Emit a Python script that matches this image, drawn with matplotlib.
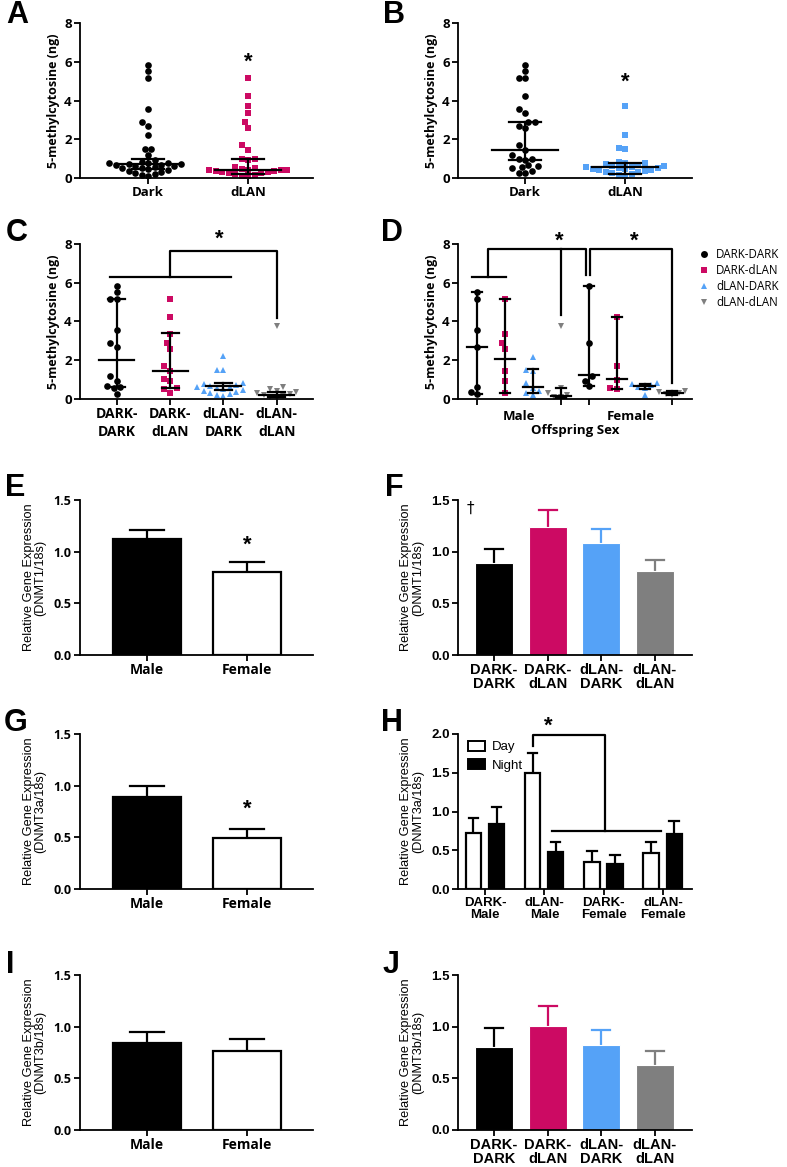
import numpy as np
import matplotlib.pyplot as plt
from matplotlib.patches import Patch

# colours of the four groups
BLACK = '#000000'
PINK = '#CC0A63'
BLUE = '#55A2F7'
GREY = '#7F7F7F'

# ---- panel A: total 5-mC by maternal light ----
a_groups = ['Dark', 'dLAN']
a_dark = [5.85, 5.5, 5.15, 3.55, 2.9, 2.7, 2.2, 1.5, 1.5, 1.2, 0.95, 0.85, 0.8, 0.75,
          0.75, 0.7, 0.7, 0.65, 0.65, 0.6, 0.6, 0.55, 0.5, 0.5, 0.45, 0.4, 0.35, 0.3,
          0.25, 0.2, 0.15, 0.1]
a_dlan = [5.15, 4.25, 3.7, 3.35, 2.9, 2.6, 1.7, 1.45, 1.0, 1.0, 0.95, 0.55, 0.5, 0.45,
          0.4, 0.4, 0.4, 0.4, 0.35, 0.35, 0.3, 0.3, 0.25, 0.25, 0.2, 0.15, 0.1, 0.05]
a_mid = [0.7, 0.4]
a_low = [0.45, 0.2]
a_high = [1.0, 0.98]

# ---- panel B: total 5-mC by paternal light ----
b_dark = [5.85, 5.5, 5.15, 5.15, 4.25, 3.55, 3.35, 2.9, 2.9, 2.7, 2.6, 1.7, 1.45, 1.2,
          1.0, 1.0, 0.95, 0.65, 0.6, 0.55, 0.5, 0.35, 0.25, 0.25]
b_dlan = [3.7, 2.2, 1.55, 1.5, 0.85, 0.8, 0.75, 0.7, 0.65, 0.6, 0.6, 0.55, 0.55, 0.5,
          0.5, 0.45, 0.45, 0.4, 0.4, 0.35, 0.3, 0.3, 0.25, 0.2, 0.15, 0.1]
b_mid = [1.45, 0.55]
b_low = [0.95, 0.2]
b_high = [2.9, 0.8]

# ---- panel C / D: four parental combinations ----
combo_names = ['DARK-DARK', 'DARK-dLAN', 'dLAN-DARK', 'dLAN-dLAN']
combo_ticks = ['DARK-\nDARK', 'DARK-\ndLAN', 'dLAN-\nDARK', 'dLAN-\ndLAN']
combo_colors = [BLACK, PINK, BLUE, GREY]
combo_markers = ['o', 's', '^', 'v']
c_vals = [
    [5.85, 5.5, 5.15, 5.15, 3.55, 2.9, 2.7, 1.2, 0.95, 0.65, 0.6, 0.55, 0.25],
    [5.15, 4.25, 3.35, 2.9, 2.6, 1.7, 1.45, 1.05, 0.95, 0.55, 0.5, 0.3],
    [2.2, 1.5, 1.5, 0.8, 0.75, 0.7, 0.65, 0.6, 0.6, 0.55, 0.5, 0.45, 0.4, 0.35, 0.3,
     0.25, 0.2, 0.15],
    [3.75, 0.6, 0.5, 0.4, 0.35, 0.3, 0.25, 0.2, 0.15, 0.1, 0.05],
]
c_mid = [2.0, 1.45, 0.65, 0.2]
c_low = [0.6, 0.55, 0.45, 0.1]
c_high = [5.15, 3.4, 0.8, 0.35]

d_sexes = ['Male', 'Female']
d_vals = [
    [5.5, 5.15, 3.55, 2.7, 0.6, 0.35, 0.25],
    [5.15, 3.35, 2.9, 2.6, 1.45, 0.95, 0.3],
    [2.15, 1.5, 1.45, 0.8, 0.55, 0.4, 0.3, 0.2],
    [3.75, 0.55, 0.3, 0.2, 0.1, 0.1],
    [5.85, 2.9, 1.2, 0.95, 0.65],
    [4.25, 1.7, 1.0, 0.55, 0.5],
    [0.8, 0.75, 0.7, 0.6, 0.55, 0.2],
    [0.4, 0.35, 0.3, 0.25, 0.2],
]
d_mid = [2.7, 2.05, 0.6, 0.15, 1.25, 1.05, 0.65, 0.3]
d_low = [0.25, 0.3, 0.3, 0.05, 0.65, 0.5, 0.5, 0.2]
d_high = [5.5, 5.15, 1.55, 0.55, 5.85, 4.25, 0.75, 0.4]

# ---- gene expression bars ----
sex_labels = ['Male', 'Female']
e_mean = [1.12, 0.80]
e_sem = [0.09, 0.10]
f_mean = [0.89, 1.24, 1.08, 0.81]
f_sem = [0.14, 0.16, 0.14, 0.11]
g_mean = [0.89, 0.49]
g_sem = [0.11, 0.09]
h_groups = ['DARK-\nMale', 'dLAN-\nMale', 'DARK-\nFemale', 'dLAN-\nFemale']
h_day = [0.72, 1.50, 0.35, 0.46]
h_day_sem = [0.20, 0.26, 0.14, 0.15]
h_night = [0.84, 0.48, 0.32, 0.71]
h_night_sem = [0.22, 0.13, 0.12, 0.17]
i_mean = [0.84, 0.76]
i_sem = [0.11, 0.12]
j_mean = [0.80, 1.01, 0.82, 0.63]
j_sem = [0.19, 0.19, 0.15, 0.13]

OPEN = 'Open Sans'
ARIAL = 'Liberation Sans'
W, H = 787, 1167
LW = 1.6

fig = plt.figure(figsize=(W / 100, H / 100), dpi=100)


def make_axes(x0, x1, ytop, ybot):
    ax = fig.add_axes([x0 / W, 1 - ybot / H, (x1 - x0) / W, (ybot - ytop) / H])
    ax.spines['top'].set_visible(False)
    ax.spines['right'].set_visible(False)
    for s in ('left', 'bottom'):
        ax.spines[s].set_linewidth(1.3)
    ax.tick_params(width=1.3, length=4, direction='out', pad=2)
    return ax


def style_ticks(ax, font, size=9.5):
    for lab in ax.get_yticklabels() + ax.get_xticklabels():
        lab.set_fontfamily(font)
        lab.set_fontweight('bold')
        lab.set_fontsize(size)


def swarm(vals, px_per_y, diam):
    # simple beeswarm: offsets in pixels
    order = np.argsort(vals)
    placed = []
    offs = np.zeros(len(vals))
    for i in order:
        y = vals[i] * px_per_y
        best = None
        for k in range(0, 60):
            for sgn in ([0] if k == 0 else [-1, 1]):
                cand = sgn * k * diam * 0.5
                ok = all((cand - px) ** 2 + (y - py) ** 2 >= diam ** 2 * 0.95 for px, py in placed)
                if ok:
                    best = cand
                    break
            if best is not None:
                break
        offs[i] = best
        placed.append((best, y))
    return offs


def scatter_panel(ax, groups, positions, colors, markers, px_per_x, px_per_y,
                  mids, lows, highs, mid_hw, cap_hw, diam=6.5, ms=4.8):
    for vals, pos, col, mk, m, lo, hi in zip(groups, positions, colors, markers, mids, lows, highs):
        vals = np.array(vals)
        offs = swarm(vals, px_per_y, diam) / px_per_x
        ax.plot(pos + offs, vals, linestyle='none', marker=mk, color=col, ms=ms,
                markeredgewidth=0, zorder=2)
        ax.plot([pos, pos], [lo, hi], color='black', lw=LW, zorder=3)
        ax.plot([pos - mid_hw, pos + mid_hw], [m, m], color='black', lw=LW, zorder=3)
        for yy in (lo, hi):
            ax.plot([pos - cap_hw, pos + cap_hw], [yy, yy], color='black', lw=LW, zorder=3)


def up_err(ax, xs, means, sems, colors, cap_hw):
    # upper-only error bars drawn from the bar top
    for x, m, s, c in zip(xs, means, sems, colors):
        ax.plot([x, x], [m, m + s], color=c, lw=LW, zorder=1, solid_capstyle='butt')
        ax.plot([x - cap_hw, x + cap_hw], [m + s, m + s], color=c, lw=LW, zorder=1)


def meth_axes(ax):
    ax.set_ylim(0, 8)
    ax.set_yticks([0, 2, 4, 6, 8])
    ax.set_ylabel('5-methylcytosine (ng)', fontfamily=OPEN, fontweight='bold',
                  fontsize=9, labelpad=3)


def bar_axes(ax, ymax, step, label):
    ax.set_ylim(0, ymax)
    ax.set_yticks(np.arange(0, ymax + 0.01, step))
    ax.yaxis.set_major_formatter(plt.FormatStrFormatter('%.1f'))
    ax.set_ylabel(label, fontfamily=ARIAL, fontsize=9.2, linespacing=1.0, labelpad=5)


def letter(x, y, s):
    fig.text(x / W, 1 - y / H, s, fontfamily=ARIAL, fontweight='bold', fontsize=22,
             ha='left', va='center')


def star(ax, x, y):
    ax.text(x, y, '*', ha='center', va='center', fontsize=16, fontweight='bold',
            fontfamily=ARIAL)


# panel A
ax = make_axes(80, 313, 23, 178)
scatter_panel(ax, [a_dark, a_dlan], [0, 1], [BLACK, PINK], ['o', 's'], 100, 155 / 8,
              a_mid, a_low, a_high, 0.33, 0.16)
ax.set_xlim(-0.68, 1.65)
meth_axes(ax)
ax.set_xticks([0, 1])
ax.set_xticklabels(a_groups)
star(ax, 1, 6.0)
style_ticks(ax, OPEN)

# panel B
ax = make_axes(458, 692, 23, 178)
scatter_panel(ax, [b_dark, b_dlan], [0, 1], [BLACK, BLUE], ['o', 's'], 100, 155 / 8,
              b_mid, b_low, b_high, 0.33, 0.16)
ax.set_xlim(-0.67, 1.67)
meth_axes(ax)
ax.set_xticks([0, 1])
ax.set_xticklabels(a_groups)
star(ax, 1, 4.95)
style_ticks(ax, OPEN)

# panel C
ax = make_axes(80, 313, 244, 399)
scatter_panel(ax, c_vals, np.arange(4), combo_colors, combo_markers, 53.3, 155 / 8,
              c_mid, c_low, c_high, 0.33, 0.16)
ax.set_xlim(-0.69, 3.68)
meth_axes(ax)
ax.set_xticks(range(4))
ax.set_xticklabels(combo_ticks, linespacing=1.35)
ax.plot([-0.13, 2.15], [6.3, 6.3], color='black', lw=LW, clip_on=False)
ax.plot([1, 1, 3, 3], [6.3, 7.65, 7.65, 4.2], color='black', lw=LW, clip_on=False)
star(ax, 1.92, 8.25)
style_ticks(ax, OPEN)
for lab in ax.get_xticklabels():
    lab.set_fontsize(10)

# panel D
ax = make_axes(458, 692, 244, 399)
scatter_panel(ax, d_vals, np.arange(8), combo_colors * 2, combo_markers * 2, 28, 155 / 8,
              d_mid, d_low, d_high, 0.36, 0.18)
ax.set_xlim(-0.68, 7.7)
meth_axes(ax)
ax.set_xticks([0, 3, 4, 7])
ax.set_xticklabels([])
ax.set_xticks([1.5, 5.5], minor=True)
ax.set_xticklabels(d_sexes, minor=True)
ax.tick_params(axis='x', which='minor', length=0, pad=8)
ax.set_xlabel('Offspring Sex', fontfamily=OPEN, fontweight='bold', fontsize=9.5, labelpad=1)
ax.plot([-0.18, 1.05], [6.3, 6.3], color='black', lw=LW, clip_on=False)
ax.plot([0.4, 0.4, 3.9, 3.9], [6.3, 7.75, 7.75, 6.4], color='black', lw=LW, clip_on=False)
ax.plot([3.0, 3.0], [7.75, 4.35], color='black', lw=LW, clip_on=False)
ax.plot([4.05, 4.05, 7.0, 7.0], [6.4, 7.75, 7.75, 0.8], color='black', lw=LW, clip_on=False)
star(ax, 2.96, 8.15)
star(ax, 5.64, 8.15)
style_ticks(ax, OPEN)
for lab in ax.get_xticklabels(minor=True):
    lab.set_fontfamily(OPEN)
    lab.set_fontweight('bold')
    lab.set_fontsize(9.5)
handles = [plt.Line2D([], [], linestyle='none', marker=m, color=c, ms=5, markeredgewidth=0)
           for m, c in zip(combo_markers, combo_colors)]
fig.legend(handles, combo_names, loc='upper left', bbox_to_anchor=(699 / W, 1 - 248 / H),
           frameon=False, prop={'family': OPEN, 'size': 8.3}, handlelength=0.8,
           handletextpad=0.7, labelspacing=0.25, borderaxespad=0, borderpad=0)


def two_bars(ax, means, sems, star_y=None):
    ax.bar([0, 1], means, width=0.68, color=['black', 'white'], edgecolor='black', lw=LW,
           zorder=2)
    up_err(ax, [0, 1], means, sems, ['black', 'black'], 0.17)
    ax.set_xlim(-0.67, 1.66)
    ax.set_xticks([0, 1])
    ax.set_xticklabels(sex_labels)
    if star_y is not None:
        star(ax, 1, star_y)


def four_bars(ax, means, sems):
    ax.bar(range(4), means, width=0.71, color=combo_colors, edgecolor='white', lw=0.8,
           zorder=2)
    up_err(ax, range(4), means, sems, combo_colors, 0.17)
    ax.set_xlim(-0.67, 3.69)
    ax.set_xticks(range(4))
    ax.set_xticklabels(combo_ticks, linespacing=1.0)


# panel E
ax = make_axes(80, 313, 500, 655)
two_bars(ax, e_mean, e_sem, star_y=1.06)
bar_axes(ax, 1.5, 0.5, 'Relative Gene Expression\n(DNMT1/18s)')
style_ticks(ax, OPEN, 9)
for lab in ax.get_xticklabels():
    lab.set_fontsize(10)

# panel F
ax = make_axes(458, 692, 500, 655)
four_bars(ax, f_mean, f_sem)
bar_axes(ax, 1.5, 0.5, 'Relative Gene Expression\n(DNMT1/18s)')
ax.text(-0.5, 1.42, '\u2020', ha='left', va='center', fontsize=11, fontfamily='DejaVu Sans')
style_ticks(ax, ARIAL, 9.5)
for lab in ax.get_xticklabels():
    lab.set_fontsize(10.5)

# panel G
ax = make_axes(80, 313, 734, 889)
two_bars(ax, g_mean, g_sem, star_y=0.77)
bar_axes(ax, 1.5, 0.5, 'Relative Gene Expression\n(DNMT3a/18s)')
style_ticks(ax, OPEN, 9)
for lab in ax.get_xticklabels():
    lab.set_fontsize(10)

# panel H
ax = make_axes(458, 692, 734, 889)
hx = np.arange(4)
ax.bar(hx - 0.2, h_day, width=0.26, color='white', edgecolor='black', lw=LW, zorder=2)
ax.bar(hx + 0.19, h_night, width=0.26, color='black', edgecolor='black', lw=LW, zorder=2)
up_err(ax, hx - 0.2, h_day, h_day_sem, ['black'] * 4, 0.08)
up_err(ax, hx + 0.19, h_night, h_night_sem, ['black'] * 4, 0.08)
ax.set_xlim(-0.46, 3.49)
ax.set_xticks(hx)
ax.set_xticklabels(h_groups, linespacing=1.0)
bar_axes(ax, 2.0, 0.5, 'Relative Gene Expression\n(DNMT3a/18s)')
ax.plot([0.8, 0.8, 2.02, 2.02], [1.85, 1.99, 1.99, 0.75], color='black', lw=LW, clip_on=False)
ax.plot([1.13, 2.96], [0.75, 0.75], color='black', lw=LW)
star(ax, 1.06, 2.1)
ax.legend(handles=[Patch(facecolor='white', edgecolor='black', lw=1.4),
                   Patch(facecolor='black', edgecolor='black', lw=1.4)],
          labels=['Day', 'Night'], loc='upper left', bbox_to_anchor=(0.02, 0.99),
          frameon=False, prop={'family': ARIAL, 'size': 9.5}, handlelength=1.3,
          handleheight=0.8, handletextpad=0.5, labelspacing=0.45, borderaxespad=0)
style_ticks(ax, ARIAL, 9.5)
for lab in ax.get_xticklabels():
    lab.set_fontsize(9.5)

# panel I
ax = make_axes(80, 313, 975, 1130)
two_bars(ax, i_mean, i_sem)
bar_axes(ax, 1.5, 0.5, 'Relative Gene Expression\n(DNMT3b/18s)')
style_ticks(ax, OPEN, 9)
for lab in ax.get_xticklabels():
    lab.set_fontsize(10)

# panel J
ax = make_axes(458, 692, 975, 1130)
four_bars(ax, j_mean, j_sem)
bar_axes(ax, 1.5, 0.5, 'Relative Gene Expression\n(DNMT3b/18s)')
style_ticks(ax, ARIAL, 9.5)
for lab in ax.get_xticklabels():
    lab.set_fontsize(10.5)

for s, x, y in [('A', 6, 15), ('B', 383, 15), ('C', 6, 233), ('D', 381, 233),
                ('E', 5, 488), ('F', 385, 488), ('G', 4, 723), ('H', 381, 723),
                ('I', 6, 965), ('J', 383, 965)]:
    letter(x, y, s)

fig.savefig('out.png', dpi=100)
